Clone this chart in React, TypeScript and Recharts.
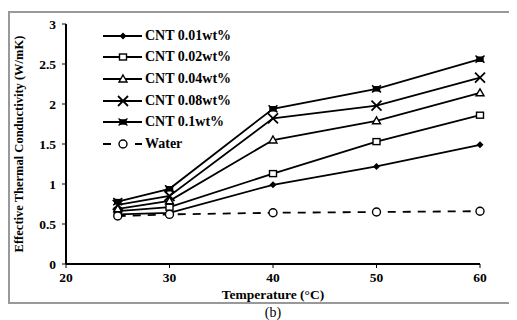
import React from "react";
import { LineChart, Line, XAxis, YAxis, Label } from "recharts";

const temps = [25, 30, 40, 50, 60];
const cnt001 = [0.62, 0.64, 0.99, 1.22, 1.49];
const cnt002 = [0.66, 0.71, 1.13, 1.53, 1.86];
const cnt004 = [0.69, 0.79, 1.55, 1.79, 2.14];
const cnt008 = [0.74, 0.85, 1.82, 1.98, 2.33];
const cnt01 = [0.78, 0.94, 1.94, 2.19, 2.56];
const water = [0.6, 0.62, 0.64, 0.65, 0.66];

const xTicks = [20, 30, 40, 50, 60];
const yTicks = [0, 0.5, 1, 1.5, 2, 2.5, 3];

const series = [
  { key: "c001", name: "CNT 0.01wt%", shape: "diamond", values: cnt001, dashed: false },
  { key: "c002", name: "CNT 0.02wt%", shape: "square", values: cnt002, dashed: false },
  { key: "c004", name: "CNT 0.04wt%", shape: "triangle", values: cnt004, dashed: false },
  { key: "c008", name: "CNT 0.08wt%", shape: "cross", values: cnt008, dashed: false },
  { key: "c01", name: "CNT 0.1wt%", shape: "star", values: cnt01, dashed: false },
  { key: "water", name: "Water", shape: "circle", values: water, dashed: true },
];

const data = temps.map((t, i) => {
  const row: Record<string, number> = { temp: t };
  series.forEach((s) => (row[s.key] = s.values[i]));
  return row;
});

const FONT = "'Liberation Serif', 'Times New Roman', serif";

function Marker({ shape, cx, cy }: { shape: string; cx: number; cy: number }) {
  const sw = 1.4;
  switch (shape) {
    case "diamond":
      return <polygon points={`${cx},${cy - 3.5} ${cx + 3.5},${cy} ${cx},${cy + 3.5} ${cx - 3.5},${cy}`} fill="#000" />;
    case "square":
      return <rect x={cx - 3.5} y={cy - 3} width={7} height={6} fill="#fff" stroke="#000" strokeWidth={sw} />;
    case "triangle":
      return <polygon points={`${cx},${cy - 4} ${cx + 4},${cy + 3} ${cx - 4},${cy + 3}`} fill="#fff" stroke="#000" strokeWidth={sw} />;
    case "cross":
      return (
        <g stroke="#000" strokeWidth={1.8}>
          <line x1={cx - 5} y1={cy - 5} x2={cx + 5} y2={cy + 5} />
          <line x1={cx - 5} y1={cy + 5} x2={cx + 5} y2={cy - 5} />
        </g>
      );
    case "star":
      return (
        <g stroke="#000" strokeWidth={1.5}>
          <rect x={cx - 3} y={cy - 2} width={6} height={4} fill="#000" />
          <line x1={cx - 4.5} y1={cy - 3.5} x2={cx + 4.5} y2={cy + 3.5} />
          <line x1={cx - 4.5} y1={cy + 3.5} x2={cx + 4.5} y2={cy - 3.5} />
        </g>
      );
    default:
      return <circle cx={cx} cy={cy} r={4} fill="#fff" stroke="#000" strokeWidth={sw} />;
  }
}

function LegendBox() {
  return (
    <div style={{ position: "absolute", left: 94, top: 17, fontFamily: FONT }}>
      {series.map((s) => (
        <div key={s.key} style={{ display: "flex", alignItems: "center", height: 21.6 }}>
          <svg width={42} height={14}>
            <line x1={1} y1={7} x2={40} y2={7} stroke="#000" strokeWidth={1.8} strokeDasharray={s.dashed ? "8 8" : undefined} />
            <Marker shape={s.shape} cx={21} cy={7} />
          </svg>
          <span style={{ fontSize: 14, fontWeight: "bold", marginLeft: 1 }}>{s.name}</span>
        </div>
      ))}
    </div>
  );
}

export default function App() {
  const tickStyle = { fontSize: 13.5, fontWeight: "bold", fill: "#000", fontFamily: FONT };
  return (
    <div style={{ position: "relative", width: 509, height: 312 }}>
      <div
        style={{
          position: "absolute",
          left: 0,
          top: 3,
          width: 520,
          height: 293,
          border: "2px solid #999",
          boxSizing: "border-box",
        }}
      />
      <LineChart
        width={509}
        height={312}
        data={data}
        margin={{ top: 16, right: 37, left: 0, bottom: 16 }}
        style={{ position: "absolute", left: 0, top: 0 }}
      >
        <XAxis
          dataKey="temp"
          type="number"
          domain={[20, 60]}
          ticks={xTicks}
          tick={tickStyle}
          tickSize={4}
          tickMargin={4}
          axisLine={{ stroke: "#000", strokeWidth: 2 }}
          tickLine={{ stroke: "#000" }}
          height={40}
        >
          <Label
            value="Temperature (°C)"
            position="insideBottom"
            offset={5}
            style={{ fontSize: 13.5, fontWeight: "bold", fill: "#000", fontFamily: FONT }}
          />
        </XAxis>
        <YAxis
          type="number"
          domain={[0, 3]}
          ticks={yTicks}
          tick={tickStyle}
          tickSize={4}
          tickMargin={6}
          axisLine={{ stroke: "#000", strokeWidth: 2 }}
          tickLine={{ stroke: "#000" }}
          width={58}
        >
          <Label
            value="Effective Thermal Conductivity (W/mK)"
            angle={-90}
            position="insideLeft"
            offset={11}
            style={{ fontSize: 12.5, fontWeight: "bold", fill: "#000", fontFamily: FONT, textAnchor: "middle" }}
          />
        </YAxis>
        {series.map((s) => (
          <Line
            key={s.key}
            dataKey={s.key}
            name={s.name}
            stroke="#000"
            strokeWidth={1.8}
            strokeDasharray={s.dashed ? "8 7" : undefined}
            isAnimationActive={false}
            dot={(p: any) => <Marker key={`${s.key}-${p.index}`} shape={s.shape} cx={p.cx} cy={p.cy} />}
          />
        ))}
      </LineChart>
      <LegendBox />
      <div
        style={{
          position: "absolute",
          left: 0,
          top: 297,
          width: 530,
          textAlign: "center",
          fontFamily: FONT,
          fontSize: 14,
        }}
      >
        (b)
      </div>
    </div>
  );
}
